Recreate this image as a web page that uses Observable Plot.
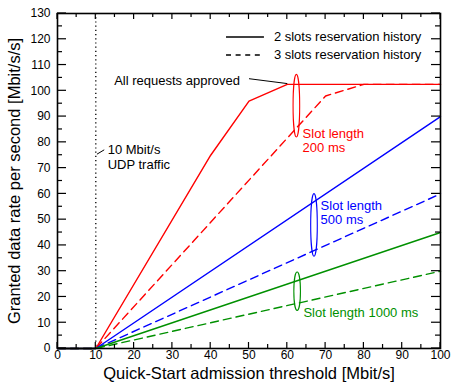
<!DOCTYPE html>
<html><head><meta charset="utf-8">
<script src="https://cdn.jsdelivr.net/npm/d3@7"></script>
<script src="https://cdn.jsdelivr.net/npm/@observablehq/plot@0.6"></script>
<style>body{margin:0;background:#fff;}</style>
</head><body><div id="chart"></div>
<script>
// ---- data ----
const slotLengths = ["200 ms", "500 ms", "1000 ms"];
const slotColors = ["#ff0000", "#0000ff", "#009000"];
const histories = ["2 slots", "3 slots"];

// Quick-Start admission threshold (x) vs granted data rate (y)
const red2X = [0, 10, 40, 50, 60, 100];
const red2Y = [0, 0, 75, 96, 102.5, 102.5];
const red3X = [0, 10, 70, 80, 100];
const red3Y = [0, 0, 98, 102.5, 102.5];
const blue2X = [0, 10, 100];
const blue2Y = [0, 0, 90];
const blue3X = [0, 10, 100];
const blue3Y = [0, 0, 60];
const green2X = [0, 10, 100];
const green2Y = [0, 0, 45];
const green3X = [0, 10, 100];
const green3Y = [0, 0, 30];

const xTickValues = [0, 10, 20, 30, 40, 50, 60, 70, 80, 90, 100];
const xMinorValues = [5, 15, 25, 35, 45, 55, 65, 75, 85, 95];
const yTickValues = [0, 10, 20, 30, 40, 50, 60, 70, 80, 90, 100, 110, 120, 130];
const yMinorValues = [5, 15, 25, 35, 45, 55, 65, 75, 85, 95, 105, 115, 125];

const udpTraffic = [10];

const xTitle = "Quick-Start admission threshold [Mbit/s]";
const yTitle = "Granted data rate per second [Mbit/s/s]";
const legendLabels = ["2 slots reservation history", "3 slots reservation history"];
const approvedLabel = ["All requests approved"];
const udpLabel = ["10 Mbit/s\nUDP traffic"];
const slotLabels = ["Slot length\n200 ms", "Slot length\n500 ms", "Slot length 1000 ms"];

// ---- build table ----
const seriesList = [
  {slot: "200 ms", history: "2 slots", xs: red2X, ys: red2Y},
  {slot: "200 ms", history: "3 slots", xs: red3X, ys: red3Y},
  {slot: "500 ms", history: "2 slots", xs: blue2X, ys: blue2Y},
  {slot: "500 ms", history: "3 slots", xs: blue3X, ys: blue3Y},
  {slot: "1000 ms", history: "2 slots", xs: green2X, ys: green2Y},
  {slot: "1000 ms", history: "3 slots", xs: green3X, ys: green3Y}
];
const rows = seriesList.flatMap(s => s.xs.map((x, i) => ({slot: s.slot, history: s.history, key: s.slot + s.history, x, y: s.ys[i]})));

// annotation anchors (data coordinates)
const ann = {
  legendX1: 44, legendX2: 53.9, legendTextX: 56.5, legendY: [120.9, 113.9],
  approved: {x: 14.8, y: 103.9, lx1: 50.0, ly1: 104.7, lx2: 60, ly2: 102.8},
  udp: {x: 13.1, y: 74.5, lx1: 10.3, ly1: 75.4, lx2: 12.2, ly2: 77.1},
  slotText: [{x: 64.0, y: 80.8}, {x: 68.7, y: 52.85}, {x: 64.2, y: 14.16}],
  ellipses: [
    {slot: "200 ms", x: 62.5, top: 106.2, bottom: 81.9},
    {slot: "500 ms", x: 67.1, top: 59.9, bottom: 35.6},
    {slot: "1000 ms", x: 62.7, top: 29.5, bottom: 14.6}
  ]
};

const font = "'Liberation Sans', Arial, Helvetica, sans-serif";
const colorOf = new Map(slotLengths.map((s, i) => [s, slotColors[i]]));

function frameTicks(index, scales, values, dimensions) {
  const {x, y} = scales;
  const {marginLeft, marginRight, marginTop, marginBottom, width, height} = dimensions;
  const L = marginLeft, R = width - marginRight, T = marginTop, B = height - marginBottom;
  const g = d3.create("svg:g").attr("stroke", "black").attr("stroke-width", 1.2).attr("fill", "none");
  const add = (x1, y1, x2, y2) => g.append("line").attr("x1", x1).attr("y1", y1).attr("x2", x2).attr("y2", y2);
  for (const v of xTickValues) { const p = x(v); add(p, B, p, B - 6); add(p, T, p, T + 6); }
  for (const v of xMinorValues) { const p = x(v); add(p, B, p, B - 4); add(p, T, p, T + 4); }
  for (const v of yTickValues) { const p = y(v); add(L, p, L + 9, p); add(R, p, R - 9, p); }
  for (const v of yMinorValues) { const p = y(v); add(L, p, L + 5, p); add(R, p, R - 5, p); }
  return g.node();
}

function slotEllipses(index, scales) {
  const {x, y} = scales;
  const g = d3.create("svg:g").attr("fill", "none").attr("stroke-width", 1.1);
  for (const e of ann.ellipses) {
    const yt = y(e.top), yb = y(e.bottom);
    g.append("ellipse")
      .attr("cx", x(e.x)).attr("cy", (yt + yb) / 2)
      .attr("rx", 3.3).attr("ry", (yb - yt) / 2)
      .attr("stroke", colorOf.get(e.slot));
  }
  return g.node();
}

const chart = Plot.plot({
  width: 452,
  height: 385,
  marginLeft: 57,
  marginRight: 12,
  marginTop: 13,
  marginBottom: 37,
  style: {fontFamily: font, fontSize: "12px", color: "black", background: "white"},
  x: {domain: [0, 100], ticks: xTickValues, tickSize: 0, tickPadding: 2, label: null},
  y: {domain: [0, 130], ticks: yTickValues, tickSize: 0, tickPadding: 7, label: null},
  color: {domain: slotLengths, range: slotColors},
  marks: [
    Plot.ruleX(udpTraffic, {x: d => d, stroke: "black", strokeWidth: 1.3, strokeDasharray: "1.2,3"}),
    Plot.line(rows.filter(d => d.history === "3 slots"), {x: "x", y: "y", z: "key", stroke: "slot", strokeWidth: 1.4, strokeDasharray: "8,5"}),
    Plot.line(rows.filter(d => d.history === "2 slots"), {x: "x", y: "y", z: "key", stroke: "slot", strokeWidth: 1.4}),
    slotEllipses,
    // legend
    Plot.link([legendLabels[0]], {x1: ann.legendX1, x2: ann.legendX2, y1: ann.legendY[0], y2: ann.legendY[0], stroke: "black", strokeWidth: 1.4}),
    Plot.link([legendLabels[1]], {x1: ann.legendX1, x2: ann.legendX2, y1: ann.legendY[1], y2: ann.legendY[1], stroke: "black", strokeWidth: 1.4, strokeDasharray: "5,4.6"}),
    Plot.text(legendLabels, {x: ann.legendTextX, y: (d, i) => ann.legendY[i], text: d => d, textAnchor: "start", fontSize: 13, fill: "black"}),
    // annotations
    Plot.text(approvedLabel, {x: ann.approved.x, y: ann.approved.y, text: d => d, textAnchor: "start", fontSize: 13, fill: "black"}),
    Plot.link(approvedLabel, {x1: ann.approved.lx1, y1: ann.approved.ly1, x2: ann.approved.lx2, y2: ann.approved.ly2, stroke: "black", strokeWidth: 1}),
    Plot.text(udpLabel, {x: ann.udp.x, y: ann.udp.y, text: d => d, textAnchor: "start", fontSize: 13, lineHeight: 1.15, fill: "black"}),
    Plot.link(udpLabel, {x1: ann.udp.lx1, y1: ann.udp.ly1, x2: ann.udp.lx2, y2: ann.udp.ly2, stroke: "black", strokeWidth: 1}),
    Plot.text(slotLabels, {x: (d, i) => ann.slotText[i].x, y: (d, i) => ann.slotText[i].y, text: d => d, fill: (d, i) => slotLengths[i], textAnchor: "start", fontSize: 13, lineHeight: 1.08}),
    // axis titles
    Plot.text([xTitle], {frameAnchor: "bottom", dy: 25, text: d => d, textAnchor: "middle", lineAnchor: "middle", fontSize: 16.5, fill: "black"}),
    Plot.text([yTitle], {frameAnchor: "left", dx: -43, rotate: -90, text: d => d, textAnchor: "middle", lineAnchor: "middle", fontSize: 16.5, fill: "black"}),
    Plot.frame({stroke: "black", strokeWidth: 1.6}),
    frameTicks
  ]
});
document.getElementById("chart").append(chart);
</script>
</body></html>
